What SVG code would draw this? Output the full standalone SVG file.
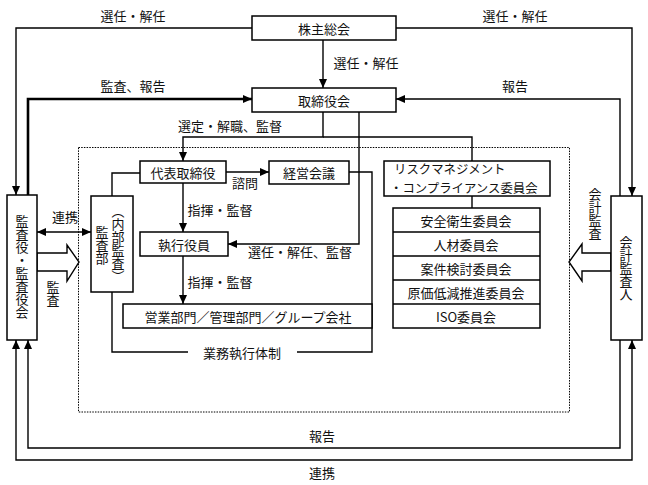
<svg xmlns="http://www.w3.org/2000/svg" width="648" height="485" viewBox="0 0 648 485">
<style>
text{font-family:"Noto Sans CJK JP","Noto Sans",sans-serif;font-size:13px;fill:#111;}
.c{text-anchor:middle;dominant-baseline:central;}
.v{writing-mode:vertical-rl;text-anchor:start;}
.s{font-size:12.4px;dominant-baseline:central;}
.box{fill:#fff;stroke:#000;stroke-width:1.5;}
.ln{fill:none;stroke:#000;stroke-width:1.4;}
.thick{fill:none;stroke:#000;stroke-width:2.6;}
.hol{fill:#fff;stroke:#000;stroke-width:1.4;}
.dot{fill:none;stroke:#000;stroke-width:1;stroke-dasharray:1.5,1.2;}
</style>
<defs>
<marker id="ah" markerUnits="userSpaceOnUse" markerWidth="9" markerHeight="8" refX="9" refY="4" orient="auto-start-reverse">
<path d="M0,0 L9,4 L0,8 z" fill="#000"/>
</marker>
</defs>

<rect class="dot" x="78.5" y="147.5" width="491" height="264.5"/>

<g id="connectors">
<path class="ln" d="M252,28 H16 V195" marker-end="url(#ah)"/>
<path class="ln" d="M396,28 H632 V196" marker-end="url(#ah)"/>
<path class="ln" d="M323,40 V88" marker-end="url(#ah)"/>
<path class="thick" d="M28,195 V99 H252" marker-end="url(#ah)"/>
<path class="ln" d="M620,196 V99 H396" marker-end="url(#ah)"/>
<path class="ln" d="M323,112 V137 H183 V161" marker-end="url(#ah)"/>
<path class="ln" d="M323,137 H472 V161"/>
<path class="ln" d="M359,112 V244 H228" marker-end="url(#ah)"/>
<path class="ln" d="M226,172 H269" marker-end="url(#ah)"/>
<path class="ln" d="M183,183 V232" marker-end="url(#ah)"/>
<path class="ln" d="M183,256 V304" marker-end="url(#ah)"/>
<path class="ln" d="M472,196 V208"/>
<path class="ln" d="M140,173 H112 V196"/>
<path class="ln" d="M112,292 V352 H188"/>
<path class="ln" d="M297,352 H372 V172 H349"/>
<path class="ln" d="M37,232 H91" marker-start="url(#ah)" marker-end="url(#ah)"/>
<path class="ln" d="M620,340 V448 H28 V340" marker-end="url(#ah)"/>
<path class="ln" d="M16,340 V460 H632 V340" marker-start="url(#ah)" marker-end="url(#ah)"/>
<polygon class="hol" points="37,253 67,253 67,245 79,262 67,281 67,271 37,271"/>
<polygon class="hol" points="611,253 582,253 582,244 569,262 582,281 582,271 611,271"/>
<text class="c" x="133" y="15">選任・解任</text>
<text class="c" x="515" y="15">選任・解任</text>
<text class="c" x="366" y="62">選任・解任</text>
<text class="c" x="133" y="85">監査、報告</text>
<text class="c" x="515" y="85">報告</text>
<text class="c" x="230" y="125">選定・解職、監督</text>
<text class="c" x="245" y="182">諮問</text>
<text class="c" x="220" y="209">指揮・監督</text>
<text class="c" x="220" y="281">指揮・監督</text>
<text class="c" x="300" y="251">選任・解任、監督</text>
<text class="c" x="242" y="352">業務執行体制</text>
<text class="c" x="65" y="216">連携</text>
<text class="v" x="53" y="281">監査</text>
<text class="v" x="595" y="188">会計監査</text>
<text class="c" x="322" y="435">報告</text>
<text class="c" x="322" y="472">連携</text>
</g>

<g id="kabunushi"><rect class="box" x="252" y="16" width="144" height="24"/><text class="c" x="324" y="28">株主総会</text></g>
<g id="torishimariyakukai"><rect class="box" x="252" y="88" width="144" height="24"/><text class="c" x="324" y="100">取締役会</text></g>
<g id="kansayaku"><rect class="box" x="7" y="195" width="30" height="145"/><text class="v" x="22" y="215">監査役・監査役会</text></g>
<g id="kaikei"><rect class="box" x="611" y="196" width="31" height="144"/><text class="v" x="626" y="236">会計監査人</text></g>
<g id="daihyo"><rect class="box" x="140" y="161" width="86" height="22"/><text class="c" x="183" y="172">代表取締役</text></g>
<g id="keiei"><rect class="box" x="269" y="161" width="80" height="23"/><text class="c" x="309" y="172">経営会議</text></g>
<g id="kansabu"><rect class="box" x="91" y="196" width="42" height="96"/><text class="v" x="118" y="205">（内部監査）</text><text class="v" x="102" y="226">監査部</text></g>
<g id="shikko"><rect class="box" x="140" y="232" width="88" height="24"/><text class="c" x="184" y="244">執行役員</text></g>
<g id="eigyo"><rect class="box" x="123" y="304" width="249" height="24"/><text class="c" x="248" y="316">営業部門／管理部門／グループ会社</text></g>
<g id="risk"><rect class="box" x="384" y="161" width="166" height="35"/><text class="s" x="394" y="169">リスクマネジメント</text><text class="s" x="390" y="187.5">・コンプライアンス委員会</text></g>
<g id="iinkai">
<rect class="box" x="393" y="208" width="147" height="120"/>
<path class="ln" d="M393,232 H540 M393,256 H540 M393,280 H540 M393,304 H540"/>
<text class="c" x="466" y="220">安全衛生委員会</text>
<text class="c" x="466" y="244">人材委員会</text>
<text class="c" x="466" y="268">案件検討委員会</text>
<text class="c" x="466" y="292">原価低減推進委員会</text>
<text class="c" x="466" y="316">ISO委員会</text>
</g>
</svg>
